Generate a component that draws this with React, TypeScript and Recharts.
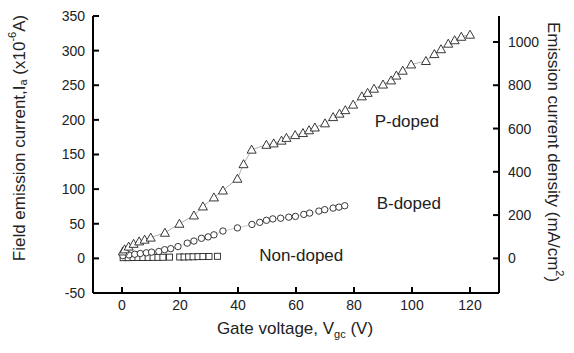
import React from "react";
import {
  ScatterChart,
  Scatter,
  XAxis,
  YAxis,
  ReferenceDot,
} from "recharts";

const FONT = '"Liberation Sans", Arial, sans-serif';

// P-doped (triangles)
const pVolt = [
  0.3, 0.9, 2.3, 4, 5.9, 7.8, 9.9, 14.8, 19.8, 24.8, 27.9, 31.7, 34.8, 39.8,
  41.9, 44.7, 49.8, 52.3, 55, 56.7, 59.7, 62.4, 64.5, 66.5, 70, 72.8, 75, 77,
  79.7, 82.7, 84.7, 86.9, 90, 92.8, 94.6, 96.8, 99.7, 104.8, 107.7, 110, 112.5,
  114.7, 117, 120,
];
const pCurr = [
  10, 13, 17, 21, 24.5, 27, 30, 37, 50, 62, 75, 88, 98, 115, 136, 157, 164,
  166, 170, 174, 178, 181, 185, 189, 195, 204, 209, 214, 222, 234, 239, 245,
  251, 257, 264, 271, 280, 285, 295, 302, 310, 315, 320, 323,
];

// B-doped (circles)
const bVolt = [
  0.3, 2.4, 4.4, 6.3, 8.4, 10.2, 12.7, 14.7, 16.8, 19.3, 22.5, 24.8, 27.4, 29.7,
  31.7, 34.8, 39.8, 44.8, 47.5, 49.8, 52, 54.7, 57.5, 59.8, 62.7, 64.7, 67.9,
  69.9, 72.8, 74.8, 76.8,
];
const bCurr = [
  4, 5, 6, 7, 8, 9, 10, 12.5, 14, 17, 22, 25, 29, 31, 34, 39.5, 44, 49, 52, 55,
  57, 58, 59.5, 60.6, 63.5, 65.4, 68.3, 70.3, 72.6, 74, 76,
];

// Non-doped (squares)
const nVolt = [
  0.4, 2.1, 3.8, 5.5, 7.2, 9, 10.7, 12.4, 14.1, 16.4, 19.9, 21.4, 23, 24.5,
  26.2, 27.9, 30, 32.9,
];
const nCurr = [
  1, 1, 1.2, 1.2, 1.3, 1.4, 1.5, 1.5, 1.6, 1.8, 2, 2, 2.2, 2.3, 2.5, 2.6, 2.8, 3,
];

const xTicks = [0, 20, 40, 60, 80, 100, 120];
const leftTicks = [-50, 0, 50, 100, 150, 200, 250, 300, 350];
const rightTicks = [0, 200, 400, 600, 800, 1000];

const pData = pVolt.map((v, k) => ({ v, i: pCurr[k] }));
const bData = bVolt.map((v, k) => ({ v, i: bCurr[k] }));
const nData = nVolt.map((v, k) => ({ v, i: nCurr[k] }));

const INK = "#222";

const Triangle = (props: any) => {
  const { cx, cy } = props;
  if (cx == null || cy == null) return null;
  return (
    <polygon
      points={`${cx - 4.5},${cy + 3.5} ${cx + 4.5},${cy + 3.5} ${cx},${cy - 4.5}`}
      fill="#fff"
      stroke={INK}
      strokeWidth={0.9}
    />
  );
};

const Circle = (props: any) => {
  const { cx, cy } = props;
  if (cx == null || cy == null) return null;
  return <circle cx={cx} cy={cy} r={3.2} fill="#fff" stroke={INK} strokeWidth={0.9} />;
};

const Square = (props: any) => {
  const { cx, cy } = props;
  if (cx == null || cy == null) return null;
  return (
    <rect x={cx - 3} y={cy - 3} width={6} height={6} fill="#fff" stroke={INK} strokeWidth={0.9} />
  );
};

const axisLine = { stroke: "#000", strokeWidth: 2 };
const tickStyle = { fontSize: 14, fill: INK, fontFamily: FONT };

const LeftTitle = () => (
  <text
    transform="rotate(-90, 19, 138)"
    x={19}
    y={138}
    textAnchor="middle"
    dominantBaseline="central"
    fontSize={17}
    fontFamily={FONT}
    fill={INK}
  >
    Field emission current,I
    <tspan fontSize={11} dy={4}>a</tspan>
    <tspan dy={-4}> (x10</tspan>
    <tspan fontSize={11} dy={-7}>-6</tspan>
    <tspan dy={7}>A)</tspan>
  </text>
);

const RightTitle = () => (
  <text
    transform="rotate(90, 553, 152)"
    x={553}
    y={152}
    textAnchor="middle"
    dominantBaseline="central"
    fontSize={17}
    fontFamily={FONT}
    fill={INK}
  >
    Emission current density (mA/cm
    <tspan fontSize={11} dy={-7}>2</tspan>
    <tspan dy={7}>)</tspan>
  </text>
);

const BottomTitle = () => (
  <text x={295} y={334} textAnchor="middle" fontSize={17} fontFamily={FONT} fill={INK}>
    Gate voltage, V
    <tspan fontSize={11} dy={4}>gc</tspan>
    <tspan dy={-4}> (V)</tspan>
  </text>
);

const notes = [
  { text: "P-doped", v: 98.2, i: 199 },
  { text: "B-doped", v: 98.9, i: 79.4 },
  { text: "Non-doped", v: 61.8, i: 4.3 },
];

export default function App() {
  return (
    <div style={{ position: "absolute", left: 0, top: 0, background: "#fff" }}>
      <ScatterChart
        width={574}
        height={353}
        margin={{ top: 16, right: 0, bottom: 0, left: 0 }}
      >
        <XAxis
          xAxisId="bottom"
          type="number"
          dataKey="v"
          domain={[-10, 130]}
          ticks={xTicks}
          interval={0}
          height={60}
          axisLine={axisLine}
          tickLine={axisLine}
          tickSize={-6}
          tickMargin={13}
          tick={tickStyle}
          label={{ content: () => <BottomTitle /> }}
        />
        <XAxis
          xAxisId="top"
          orientation="top"
          type="number"
          domain={[-10, 130]}
          height={0}
          axisLine={axisLine}
          tick={false}
          tickLine={false}
        />
        <YAxis
          yAxisId="left"
          type="number"
          dataKey="i"
          domain={[-50, 350]}
          ticks={leftTicks}
          interval={0}
          width={93}
          axisLine={axisLine}
          tickLine={axisLine}
          tickSize={-6}
          tickMargin={14}
          tick={tickStyle}
          label={{ content: () => <LeftTitle /> }}
        />
        <YAxis
          yAxisId="right"
          orientation="right"
          type="number"
          domain={[-160, 1120]}
          allowDataOverflow
          ticks={rightTicks}
          interval={0}
          width={75}
          axisLine={axisLine}
          tickLine={axisLine}
          tickSize={-6}
          tickMargin={15}
          tick={tickStyle}
          label={{ content: () => <RightTitle /> }}
        />
        <Scatter
          xAxisId="bottom"
          yAxisId="left"
          data={nData}
          shape={Square}
          isAnimationActive={false}
        />
        <Scatter
          xAxisId="bottom"
          yAxisId="left"
          data={bData}
          shape={Circle}
          line={{ stroke: "#999", strokeWidth: 0.5 }}
          isAnimationActive={false}
        />
        <Scatter
          xAxisId="bottom"
          yAxisId="left"
          data={pData}
          shape={Triangle}
          line={{ stroke: "#777", strokeWidth: 0.6 }}
          isAnimationActive={false}
        />
        {notes.map((n) => (
          <ReferenceDot
            key={n.text}
            xAxisId="bottom"
            yAxisId="left"
            x={n.v}
            y={n.i}
            r={0}
            fill="none"
            stroke="none"
            label={{
              value: n.text,
              position: "center",
              fontSize: 17,
              fontFamily: FONT,
              fill: INK,
            }}
          />
        ))}
      </ScatterChart>
    </div>
  );
}
